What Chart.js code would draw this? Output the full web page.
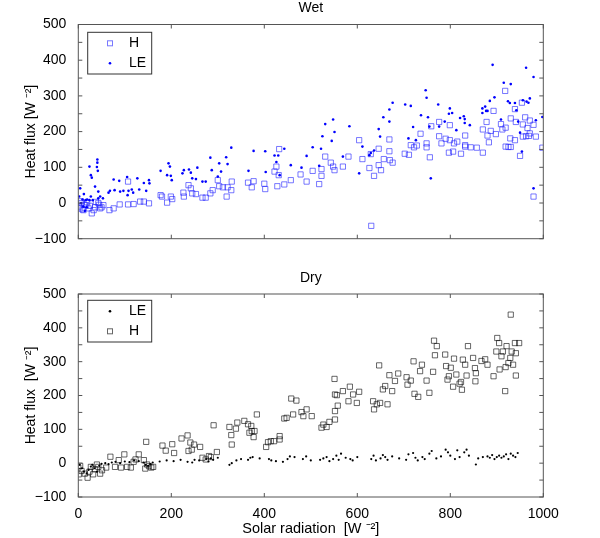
<!DOCTYPE html>
<html>
<head>
<meta charset="utf-8">
<script src="https://cdn.jsdelivr.net/npm/chart.js@4.4.1/dist/chart.umd.min.js"></script>
<style>
body { margin: 0; background: #fff; }
canvas { display: block; }
</style>
</head>
<body>
<canvas id="wetChart" width="600" height="268"></canvas>
<canvas id="dryChart" width="600" height="270"></canvas>
<script>
// data
const wetHx = [4,7,11,17,22,29,36,43,47,54,67,76,89,107,107,119,133,141,152,177,180,191,199,202,226,227,237,242,245,253,267,274,284,289,300,303,311,319,321,329,330,365,373,377,400,402,422,426,431,432,428,443,457,478,
  2,5,9,13,19,25,33,38,45,50,
  491,504,518,523,523,531,543,548,551,569,581,604,611,626,629,630,636,646,646,651,657,669,669,670,676,702,711,715,722,728,736,749,749,756,759,776,776,781,790,797,799,799,806,808,815,823,832,832,832,844,857,870,870,878,880,883,887,893,898,909,912,918,919,919,925,929,930,930,939,941,939,950,954,956,956,961,963,966,969,971,971,979,979,984,998];
const wetHy = [-15,0,-20,-6,-15,-29,-12,0,-15,-6,-20,-15,-4,-4,60,-3,4,4,-1,22,18,1,18,11,29,18,50,41,27,25,15,15,27,36,64,47,44,18,44,36,60,57,44,61,54,39,88,102,78,151,47,52,64,80,
  -10,5,-18,-5,2,-8,-20,3,-5,-12,
  60,90,53,95,76,130,113,102,92,102,130,176,123,98,137,-64,76,152,106,92,123,178,145,120,113,138,135,162,156,161,194,156,167,128,215,227,187,167,180,141,218,176,144,167,172,138,189,162,158,156,155,141,206,227,189,170,202,258,193,221,206,314,211,158,157,181,237,157,263,227,176,132,281,220,186,240,187,210,188,231,195,219,18,186,155];

const wetLEx = [4,2,6,9,12,11,16,19,18,14,24,27,29,27,24,31,36,40,41,41,42,43,43,47,53,65,68,76,78,88,90,97,105,106,108,115,118,127,131,141,146,152,153,177,191,194,197,199,201,224,227,238,242,245,253,256,267,274,284,287,300,303,307,318,321,329,366,377,402,403,422,426,430,433,443,457,
  480,491,504,518,522,531,525,545,548,551,569,583,604,611,626,629,636,646,649,656,669,669,676,703,710,715,720,726,737,747,749,752,755,758,774,776,788,799,797,804,813,821,829,831,831,842,869,869,875,877,880,885,891,895,909,915,924,930,928,939,942,946,950,954,956,963,964,968,971,979,979,984,998];
const wetLEy = [41,18,0,10,25,-10,8,10,-12,-22,102,78,71,18,8,8,46,101,122,113,90,32,13,18,13,29,34,66,36,62,32,34,73,22,34,38,29,69,38,56,34,64,55,90,78,111,102,76,64,83,92,94,85,69,67,99,60,60,127,92,74,111,88,128,109,155,90,146,145,87,133,115,133,78,152,106,
  99,132,156,104,152,221,187,174,234,199,130,215,83,158,134,140,147,207,186,240,228,262,281,276,181,272,213,176,246,316,295,240,214,69,276,214,228,265,250,252,204,238,243,235,224,218,252,265,270,258,258,286,387,296,234,337,285,333,280,280,260,228,197,144,288,379,284,281,293,353,41,232,241];

const dryLEx = [3,8,12,18,22,27,30,35,40,45,50,58,65,72,80,90,100,110,120,130,140,145,150,155,160,175,190,205,220,235,245,250,260,275,280,285,290,300,325,330,340,350,365,370,375,390,410,415,425,440,450,455,465,
  483,490,500,520,527,534,540,548,555,560,565,575,585,590,600,630,635,640,650,655,660,665,675,690,705,710,720,725,730,740,745,755,760,770,780,790,795,800,810,815,820,830,835,840,855,860,870,880,885,890,895,900,905,910,915,920,925,930,935,940,945];
const dryLEy = [-5,-15,-25,-30,-20,-10,-5,-15,-25,-8,-2,0,-3,2,4,0,5,3,8,6,2,-5,-8,-3,2,5,8,6,10,4,2,10,8,12,5,14,10,16,-5,0,8,12,10,16,18,14,12,8,6,4,12,20,18,
  12,20,8,10,14,18,6,12,22,10,28,16,12,8,18,12,22,8,14,24,18,10,20,14,10,26,30,16,8,18,12,28,36,14,20,40,32,22,12,38,18,32,40,22,-4,14,18,20,16,24,12,18,22,16,20,26,12,28,22,18,30];

const dryHx = [0,1,4,7,14,20,24,27,32,36,40,43,47,51,60,69,79,87,92,99,105,113,119,123,130,141,144,148,146,152,157,161,181,188,202,206,222,235,237,241,244,249,262,267,274,281,285,291,298,325,329,330,339,342,357,365,368,372,373,377,379,384,404,408,414,421,433,433,443,448,458,462,469,
  480,484,491,502,523,527,534,540,552,552,551,552,556,558,569,581,584,591,599,604,634,636,642,647,649,655,660,665,669,675,681,688,706,708,715,721,723,731,735,739,749,755,763,765,767,771,789,791,794,797,801,806,808,813,820,823,825,827,832,835,838,849,853,854,855,867,875,880,893,899,901,905,906,910,913,918,919,921,925,929,930,932,935,939,941,941,948];
const dryHy = [-13,-33,-8,-23,-31,-43,-25,-11,-33,-18,-4,-11,-31,-21,-13,19,-11,9,-13,26,-11,-13,4,11,26,9,-16,-4,63,-9,-13,-11,52,37,56,30,73,82,36,61,40,55,48,16,11,21,18,112,33,107,83,55,102,120,125,115,90,110,95,77,95,144,48,62,65,65,80,70,132,134,191,144,185,
  151,139,159,139,105,114,107,122,129,154,249,203,201,170,213,183,226,203,178,211,183,159,174,289,178,218,228,174,260,213,243,265,254,232,244,301,205,196,272,291,244,208,270,362,319,346,321,287,247,257,282,226,309,262,235,240,217,306,291,259,346,311,281,242,266,302,307,291,257,330,370,355,277,316,330,213,284,346,296,311,439,330,291,355,325,259,355];

const xTicks = [0, 200, 400, 600, 800, 1000];
const yTicks = [-100, 0, 100, 200, 300, 400, 500];

const FONT = '"Liberation Sans", Arial, Helvetica, sans-serif';
Chart.defaults.font.family = FONT;
Chart.defaults.color = '#000';

function pts(xs, ys) {
    return xs.map((x, i) => ({ x: x, y: ys[i] }));
}

// frame box, inward tick marks and the boxed legend
const framePlugin = {
    id: 'frame',
    afterDraw(chart, args, opts) {
        const ctx = chart.ctx;
        const a = chart.chartArea;
        const xs = chart.scales.x, ys = chart.scales.y;
        ctx.save();
        ctx.strokeStyle = '#555';
        ctx.lineWidth = 1;
        ctx.strokeRect(a.left, a.top, a.right - a.left, a.bottom - a.top);
        ctx.beginPath();
        xTicks.forEach(v => {
            const px = xs.getPixelForValue(v);
            ctx.moveTo(px, a.bottom); ctx.lineTo(px, a.bottom - 4);
            ctx.moveTo(px, a.top); ctx.lineTo(px, a.top + 4);
        });
        for (let v = -100; v <= 500; v += 50) {
            const py = ys.getPixelForValue(v);
            ctx.moveTo(a.left, py); ctx.lineTo(a.left + 4, py);
            ctx.moveTo(a.right, py); ctx.lineTo(a.right - 4, py);
        }
        ctx.stroke();

        // legend
        const b = opts.box;
        ctx.fillStyle = '#fff';
        ctx.fillRect(b[0], b[1], b[2], b[3]);
        ctx.strokeStyle = '#333';
        ctx.strokeRect(b[0], b[1], b[2], b[3]);
        ctx.font = '14px ' + FONT;
        ctx.textBaseline = 'middle';
        opts.items.forEach((it, i) => {
            const y = b[1] + 11 + i * 20;
            if (it.style === 'rect') {
                ctx.strokeStyle = it.color;
                ctx.strokeRect(107.5, y - 2.5, 5, 5);
            } else {
                ctx.fillStyle = it.color;
                ctx.beginPath();
                ctx.arc(110, y, 1.3, 0, Math.PI * 2);
                ctx.fill();
            }
            ctx.fillStyle = '#000';
            ctx.fillText(it.label, 129, y);
        });
        ctx.restore();
    }
};

function makeScales(showX, xHeight) {
    return {
        x: {
            type: 'linear',
            min: 0,
            max: 1000,
            grid: { display: false },
            border: { display: false },
            ticks: {
                display: showX,
                stepSize: 200,
                padding: 1,
                font: { size: 14 },
                color: '#000',
                callback: v => String(v)
            },
            title: {
                display: showX,
                text: 'Solar radiation  [W \u207B\u00B2]',
                font: { size: 14.5 },
                color: '#000',
                padding: { top: 0, bottom: 0 }
            },
            afterFit: s => { s.height = xHeight; }
        },
        y: {
            type: 'linear',
            min: -100,
            max: 500,
            grid: { display: false },
            border: { display: false },
            ticks: {
                stepSize: 100,
                padding: 4,
                font: { size: 14 },
                color: '#000',
                callback: v => (v < 0 ? '\u2212' + Math.abs(v) : String(v))
            },
            title: {
                display: true,
                text: showX ? 'Heat flux  [W \u207B\u00B2]' : 'Heat flux [W \u207B\u00B2]',
                font: { size: 14 },
                color: '#000',
                padding: { top: 22.6, bottom: 0 }
            },
            afterFit: s => { s.width = 78.3; }
        }
    };
}

// Wet panel
new Chart(document.getElementById('wetChart').getContext('2d'), {
    type: 'scatter',
    data: {
        datasets: [
            {
                label: 'H',
                data: pts(wetHx, wetHy),
                pointStyle: 'rect',
                pointRadius: 3.7,
                borderWidth: 1,
                borderColor: 'rgba(30,30,255,0.6)',
                backgroundColor: 'transparent',
                order: 1
            },
            {
                label: 'LE',
                data: pts(wetLEx, wetLEy),
                pointRadius: 1.3,
                borderWidth: 0,
                backgroundColor: '#0000ff',
                order: 0
            }
        ]
    },
    options: {
        responsive: false,
        animation: false,
        layout: { padding: { left: 0, right: 56.7, top: 0, bottom: 0 } },
        plugins: {
            legend: { display: false },
            tooltip: { enabled: false },
            title: {
                display: true,
                text: 'Wet',
                fullSize: false,
                font: { size: 14, weight: 'normal' },
                color: '#000',
                padding: { top: 0, bottom: 7.7 }
            },
            frame: {
                box: [87.7, 32.3, 64, 41.7],
                items: [
                    { label: 'H', style: 'rect', color: 'rgba(30,30,255,0.6)' },
                    { label: 'LE', style: 'dot', color: '#0000ff' }
                ]
            }
        },
        scales: makeScales(false, 29.3)
    },
    plugins: [framePlugin]
});

// Dry panel
new Chart(document.getElementById('dryChart').getContext('2d'), {
    type: 'scatter',
    data: {
        datasets: [
            {
                label: 'LE',
                data: pts(dryLEx, dryLEy),
                pointRadius: 1.1,
                borderWidth: 0,
                backgroundColor: '#000',
                order: 1
            },
            {
                label: 'H',
                data: pts(dryHx, dryHy),
                pointStyle: 'rect',
                pointRadius: 3.7,
                borderWidth: 1,
                borderColor: 'rgba(0,0,0,0.6)',
                backgroundColor: 'transparent',
                order: 0
            }
        ]
    },
    options: {
        responsive: false,
        animation: false,
        layout: { padding: { left: 0, right: 56.7, top: 0, bottom: 0 } },
        plugins: {
            legend: { display: false },
            tooltip: { enabled: false },
            title: {
                display: true,
                text: 'Dry',
                fullSize: false,
                font: { size: 14, weight: 'normal' },
                color: '#000',
                padding: { top: 2, bottom: 7.2 }
            },
            frame: {
                box: [87.7, 32.3, 64, 41.7],
                items: [
                    { label: 'LE', style: 'dot', color: '#000' },
                    { label: 'H', style: 'rect', color: 'rgba(0,0,0,0.6)' }
                ]
            }
        },
        scales: makeScales(true, 41)
    },
    plugins: [framePlugin]
});
</script>
</body>
</html>
